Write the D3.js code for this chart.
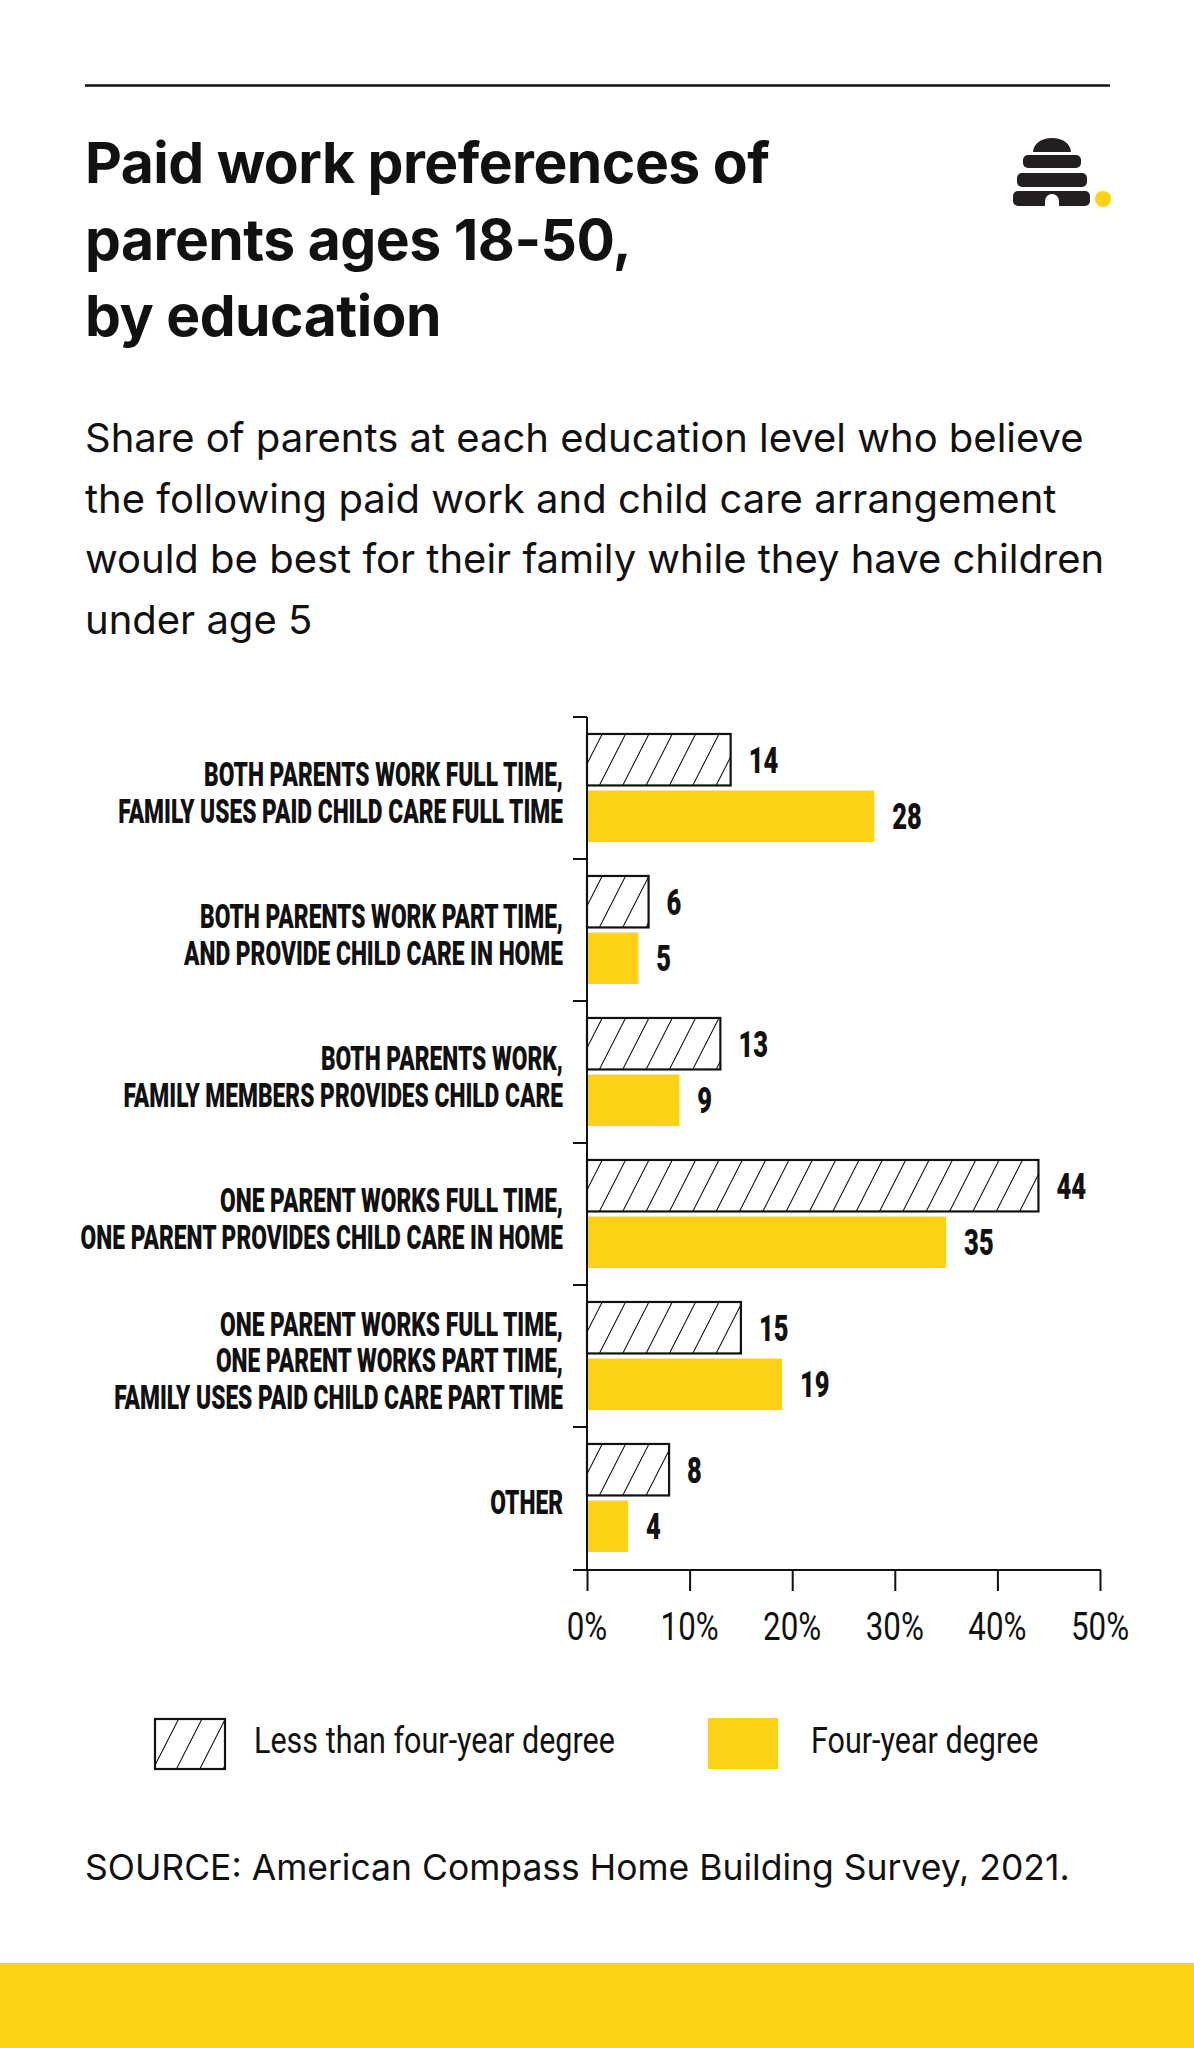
<!DOCTYPE html>
<html>
<head>
<meta charset="utf-8">
<script src="https://cdn.jsdelivr.net/npm/d3@7"></script>
<style>
  body { margin: 0; background: #fff; }
  svg { display: block; }
</style>
</head>
<body>
<div id="chart"></div>
<script>

var categories = [
    ["BOTH PARENTS WORK FULL TIME,", "FAMILY USES PAID CHILD CARE FULL TIME"],
    ["BOTH PARENTS WORK PART TIME,", "AND PROVIDE CHILD CARE IN HOME"],
    ["BOTH PARENTS WORK,", "FAMILY MEMBERS PROVIDES CHILD CARE"],
    ["ONE PARENT WORKS FULL TIME,", "ONE PARENT PROVIDES CHILD CARE IN HOME"],
    ["ONE PARENT WORKS FULL TIME,", "ONE PARENT WORKS PART TIME,", "FAMILY USES PAID CHILD CARE PART TIME"],
    ["OTHER"]
];
var lessThanFourYear = [14, 6, 13, 44, 15, 8];
var fourYear = [28, 5, 9, 35, 19, 4];
var seriesNames = ["Less than four-year degree", "Four-year degree"];
var xTicks = [0, 10, 20, 30, 40, 50];

var titleLines = ["Paid work preferences of", "parents ages 18-50,", "by education"];
var subtitleLines = [
    "Share of parents at each education level who believe",
    "the following paid work and child care arrangement",
    "would be best for their family while they have children",
    "under age 5"
];
var sourceText = "SOURCE: American Compass Home Building Survey, 2021.";

var W = 1194, H = 2048;
var yellow = "#fcd116";
var ink = "#111";

var svg = d3.select("#chart").append("svg")
    .attr("width", W)
    .attr("height", H);

svg.append("rect").attr("width", W).attr("height", H).attr("fill", "#fff");

// hatch pattern for the first series
var defs = svg.append("defs");
defs.append("pattern")
    .attr("id", "hatch")
    .attr("patternUnits", "userSpaceOnUse")
    .attr("width", 20.8)
    .attr("height", 20)
    .attr("patternTransform", "translate(587,0) rotate(27)")
    .append("line")
    .attr("x1", 0).attr("y1", -5)
    .attr("x2", 0).attr("y2", 25)
    .attr("stroke", "#000")
    .attr("stroke-width", 2);

var condFont = "Roboto, 'Liberation Sans', sans-serif";

// measure a string so the condensed styles can be squeezed to the right width
function measure(str, size, weight) {
    var t = svg.append("text")
        .attr("font-family", condFont)
        .attr("font-size", size)
        .attr("font-weight", weight)
        .text(str);
    var w = t.node().getComputedTextLength();
    t.remove();
    return w;
}
var boldSize = 33, regSize = 37, valSize = 37;
var boldScale = 445 / measure("FAMILY USES PAID CHILD CARE FULL TIME", boldSize, 900);
var regScale = 361 / measure("Less than four-year degree", regSize, 400);

function condText(g, x, y, str, size, weight, sx, anchor) {
    return g.append("text")
        .attr("transform", "translate(" + x + "," + y + ") scale(" + sx + ",1)")
        .attr("font-family", condFont)
        .attr("font-size", size)
        .attr("font-weight", weight)
        .attr("text-anchor", anchor || "start")
        .attr("fill", ink)
        .text(str);
}

// top rule
svg.append("line")
    .attr("x1", 85).attr("x2", 1110)
    .attr("y1", 85.5).attr("y2", 85.5)
    .attr("stroke", ink).attr("stroke-width", 2.5);

// title
svg.append("g").selectAll("text").data(titleLines).enter().append("text")
    .attr("x", 85)
    .attr("y", function(d, i){ return 183 + i * 76.5; })
    .attr("font-family", "Inter, 'Noto Sans', sans-serif")
    .attr("font-weight", 700)
    .attr("font-size", 57)
    .attr("letter-spacing", -0.5)
    .attr("fill", ink)
    .text(function(d){ return d; });

// subtitle
svg.append("g").selectAll("text").data(subtitleLines).enter().append("text")
    .attr("x", 85)
    .attr("y", function(d, i){ return 452 + i * 60.5; })
    .attr("font-family", "Inter, 'Noto Sans', sans-serif")
    .attr("font-weight", 400)
    .attr("font-size", 40)
    .attr("fill", ink)
    .text(function(d){ return d; });

// logo
var logo = svg.append("g").attr("fill", "#231f20");
logo.append("path").attr("d", "M1033,152 A19,14 0 0 1 1071,152 Z");
logo.append("rect").attr("x", 1023).attr("y", 155).attr("width", 58).attr("height", 13).attr("rx", 5);
logo.append("rect").attr("x", 1017).attr("y", 173).attr("width", 70).attr("height", 14).attr("rx", 5);
logo.append("rect").attr("x", 1013).attr("y", 191).attr("width", 77).attr("height", 15).attr("rx", 5);
logo.append("path").attr("d", "M1045,207 V201 A7,7 0 0 1 1059,201 V207 Z").attr("fill", "#fff");
svg.append("circle").attr("cx", 1103).attr("cy", 199).attr("r", 8).attr("fill", yellow);

// chart
var x = d3.scaleLinear().domain([0, 50]).range([587, 1100]);
var y = d3.scaleBand().domain(d3.range(categories.length)).range([717, 1569]);
var ySub = d3.scaleBand().domain([0, 1]).range([0, y.bandwidth()])
    .paddingInner(0.09).paddingOuter(0.3);

var chart = svg.append("g");

var groups = chart.selectAll("g.cat").data(categories).enter().append("g")
    .attr("class", "cat")
    .attr("transform", function(d, i){ return "translate(0," + y(i) + ")"; });

groups.append("rect")
    .attr("x", x(0))
    .attr("y", ySub(0))
    .attr("width", function(d, i){ return x(lessThanFourYear[i]) - x(0); })
    .attr("height", ySub.bandwidth())
    .attr("fill", "url(#hatch)")
    .attr("stroke", ink)
    .attr("stroke-width", 2.2);

groups.append("rect")
    .attr("x", x(0))
    .attr("y", ySub(1))
    .attr("width", function(d, i){ return x(fourYear[i]) - x(0); })
    .attr("height", ySub.bandwidth())
    .attr("fill", yellow);

groups.each(function(d, i) {
    var g = d3.select(this);
    var mid = y.bandwidth() / 2 + 4.5;
    d.forEach(function(line, j) {
        var cy = mid + (j - (d.length - 1) / 2) * 36.7;
        condText(g, 563, cy + 11.7, line, boldSize, 900, boldScale, "end");
    });
    condText(g, x(lessThanFourYear[i]) + 18, ySub(0) + ySub.bandwidth() / 2 + 13,
        lessThanFourYear[i], valSize, 900, boldScale);
    condText(g, x(fourYear[i]) + 18, ySub(1) + ySub.bandwidth() / 2 + 13,
        fourYear[i], valSize, 900, boldScale);
});

// y axis line and category boundary ticks
chart.append("line")
    .attr("x1", x(0)).attr("x2", x(0))
    .attr("y1", 717).attr("y2", 1570)
    .attr("stroke", ink).attr("stroke-width", 2);

chart.selectAll("line.ytick").data(d3.range(categories.length)).enter().append("line")
    .attr("class", "ytick")
    .attr("x1", 573).attr("x2", x(0))
    .attr("y1", function(d){ return y(d); })
    .attr("y2", function(d){ return y(d); })
    .attr("stroke", ink).attr("stroke-width", 2);

// x axis
var xAxis = chart.append("g")
    .attr("transform", "translate(0,1570)")
    .call(d3.axisBottom(x).tickValues(xTicks).tickSize(21).tickSizeOuter(0).tickFormat(function(d){ return ""; }));
xAxis.select(".domain").remove();
xAxis.selectAll(".tick line").attr("stroke", ink).attr("stroke-width", 2);

chart.append("line")
    .attr("x1", 573).attr("x2", x(50) + 1)
    .attr("y1", 1570).attr("y2", 1570)
    .attr("stroke", ink).attr("stroke-width", 2);

xTicks.forEach(function(t) {
    condText(chart, x(t), 1640, t + "%", 38, 400, regScale, "middle");
});

// legend
var legend = svg.append("g");
legend.append("rect")
    .attr("x", 155).attr("y", 1719).attr("width", 70).attr("height", 50)
    .attr("fill", "url(#hatch)").attr("stroke", ink).attr("stroke-width", 2.2);
condText(legend, 254, 1753, seriesNames[0], regSize, 400, regScale);
legend.append("rect")
    .attr("x", 708).attr("y", 1718).attr("width", 70).attr("height", 51)
    .attr("fill", yellow);
condText(legend, 811, 1753, seriesNames[1], regSize, 400, regScale);

// source
svg.append("text")
    .attr("x", 85).attr("y", 1880)
    .attr("font-family", "Inter, 'Noto Sans', sans-serif")
    .attr("font-size", 35.5)
    .attr("fill", ink)
    .text(sourceText);

// bottom band
svg.append("rect")
    .attr("x", 0).attr("y", 1963).attr("width", W).attr("height", H - 1963)
    .attr("fill", yellow);

</script>
</body>
</html>
